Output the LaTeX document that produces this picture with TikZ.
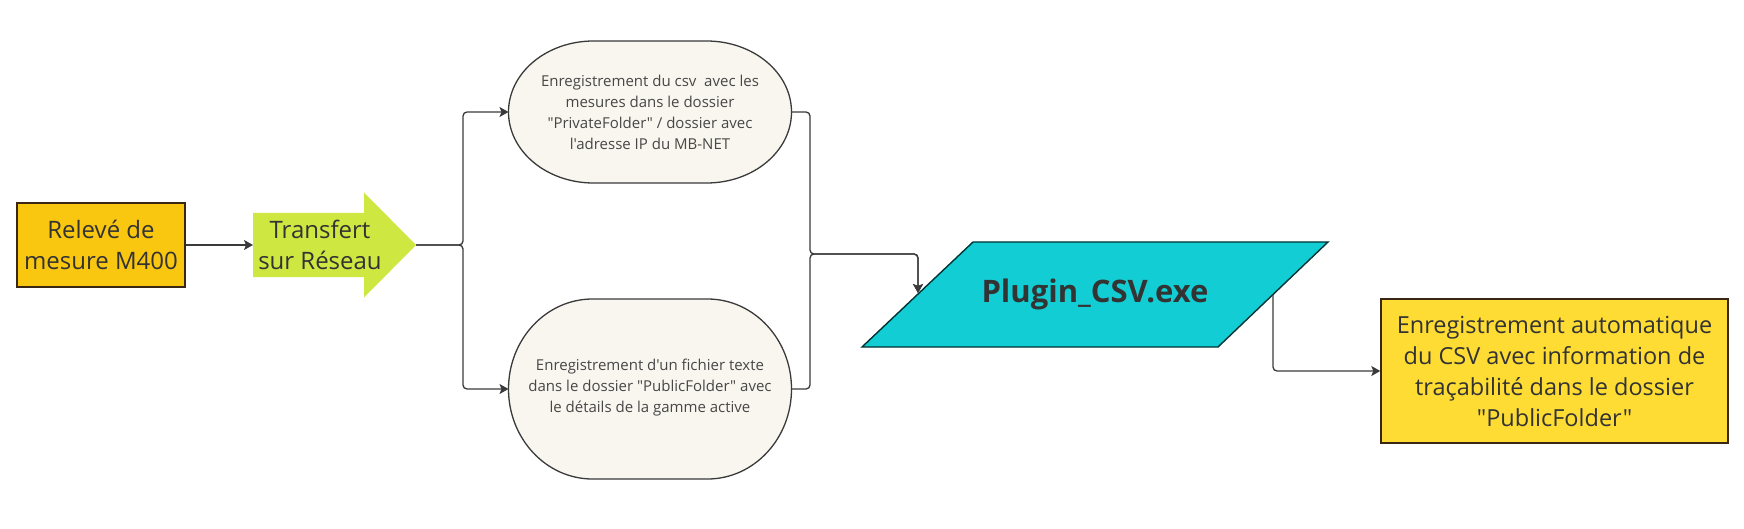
\documentclass[tikz,border=0pt]{standalone}
\usepackage{fontspec}
\setmainfont{Open Sans}[Ligatures=TeXOff]
\usetikzlibrary{calc,arrows.meta}
\definecolor{releveorange}{HTML}{FAC710}
\definecolor{transfertgreen}{HTML}{CEE741}
\definecolor{notebeige}{HTML}{F9F6EF}
\definecolor{plugincyan}{HTML}{12CDD4}
\definecolor{autoyellow}{HTML}{FEDC33}
\definecolor{linegray}{HTML}{3A3A3A}
\definecolor{textgray}{HTML}{333333}
\def\pillshape[#1](#2)(#3:#4:#5){\draw[#1] ($(#2)+({-(#3-#5)},#4)$) arc[start angle=90,end angle=270,x radius=#5pt,y radius=#4pt] -- ($(#2)+({#3-#5},-#4)$) arc[start angle=-90,end angle=90,x radius=#5pt,y radius=#4pt] -- cycle;}

\begin{document}
\begin{tikzpicture}[x=1pt,y=1pt,
		bigtext/.style={align=center, text=textgray, font=\fontsize{24}{31}\selectfont},
		notetext/.style={align=center, text=textgray!90, font=\fontsize{15}{21}\selectfont},
		bigbox/.style={bigtext, draw=black!70!brown, line width=1.4pt, inner sep=0pt},
		conn/.style={draw=linegray, line width=1.3pt, rounded corners=4pt},
		arr/.style={conn, -{Stealth[length=9pt,width=10pt,inset=2pt]}}]
		%%%%% START %%%%%
		
		\useasboundingbox (0,0) rectangle (1744,528);
		
		\node[bigbox, fill=releveorange, minimum width=168, minimum height=84] (releve) at (101,283) {Relevé de\\mesure M400};
		
		\fill[transfertgreen] (253,251) -- (364,251) -- (364,230.5) -- (416,283) -- (364,335.5) -- (364,315) -- (253,315) -- cycle;
		\node[bigtext] (transfert) at (320,283) {Transfert\\sur Réseau};
		\coordinate (transfertw) at (253,283);
		\coordinate (transferttip) at (416,283);
		
		\pillshape[fill=notebeige, draw=linegray, line width=1.3pt](650,416)(141.5:71:85);
		\node[notetext] (prive) at (650,416) {Enregistrement du csv\ \ avec les\\mesures dans le dossier\\"PrivateFolder" / dossier avec\\l'adresse IP du MB-NET};
		\coordinate (privew) at (508.5,416);
		\coordinate (privee) at (791.5,416);
		
		\pillshape[fill=notebeige, draw=linegray, line width=1.3pt](650,139)(141.5:90:84);
		\node[notetext] (public) at (650,140) {Enregistrement d'un fichier texte\\dans le dossier "PublicFolder" avec\\le détails de la gamme active};
		\coordinate (publicw) at (508.5,139);
		\coordinate (publice) at (791.5,139);
		
		\draw[fill=plugincyan, draw=black!60!teal, line width=1.4pt] (862,181) -- (973,286) -- (1328,286) -- (1218,181) -- cycle;
		\node[text=textgray, font=\fontsize{31}{38}\selectfont\bfseries] (plugin) at (1095,233.5) {Plugin\_CSV.exe};
		\coordinate (pluginin) at (918,235);
		\coordinate (plugine) at (1273,233.5);
		
		\node[bigbox, fill=autoyellow, font=\fontsize{23.5}{31}\selectfont, minimum width=347, minimum height=144] (auto) at (1554.5,157) {Enregistrement automatique\\du CSV avec information de\\traçabilité dans le dossier\\"PublicFolder"};
		
		% connectors
		\draw[arr] (releve.east) -- (transfertw);
		\draw[arr] (transferttip) -- (463,283) |- (privew);
		\draw[arr] (transferttip) -- (463,283) |- (publicw);
		\draw[arr] (privee) -| (810,274) -| (pluginin);
		\draw[arr] (publice) -| (810,274) -| (pluginin);
		\draw[arr] (plugine) |- (auto.west);
		
		%%%%% END %%%%%
\end{tikzpicture}
\end{document}
